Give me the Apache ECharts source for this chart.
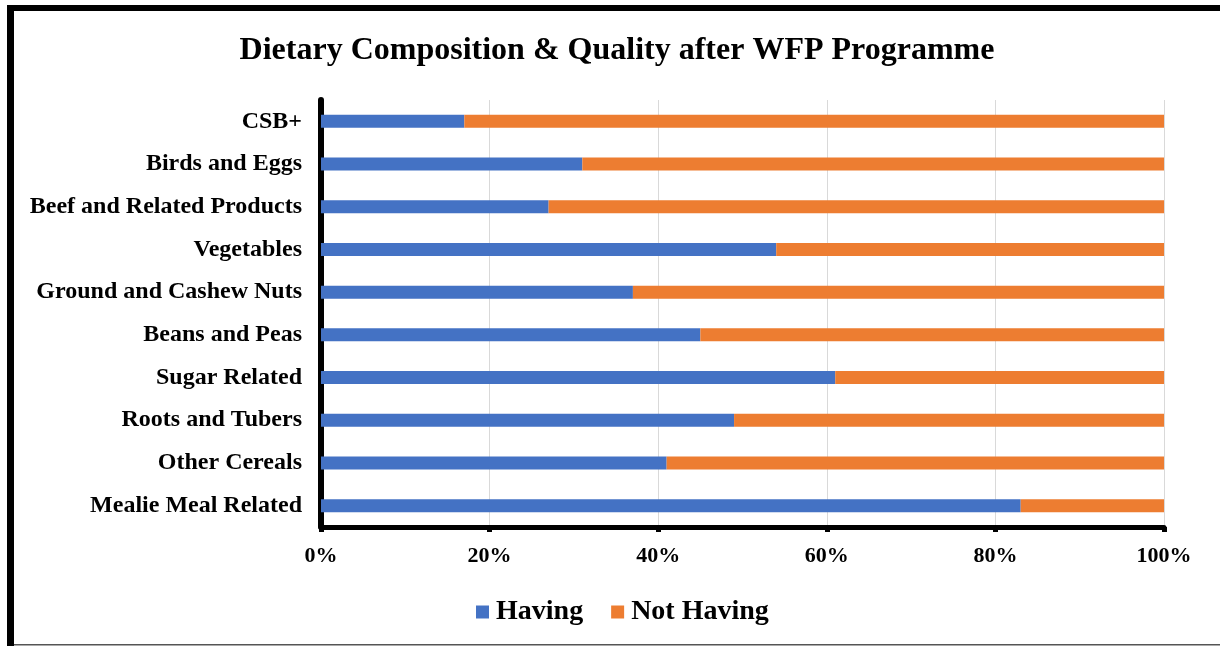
<!DOCTYPE html>
<html>
<head>
<meta charset="utf-8">
<script src="https://cdn.jsdelivr.net/npm/echarts@6/dist/echarts.min.js"></script>
<style>
html,body{margin:0;padding:0;background:#fff;}
#chart{width:1220px;height:646px;}
</style>
</head>
<body>
<div id="chart"></div>
<script>
const categories = ["Mealie Meal Related","Other Cereals","Roots and Tubers","Sugar Related","Beans and Peas","Ground and Cashew Nuts","Vegetables","Beef and Related Products","Birds and Eggs","CSB+"];
const having = [83,41,49,61,45,37,54,27,31,17];
const notHaving = [17,59,51,39,55,63,46,73,69,83];
const seriesNames = ["Having","Not Having"];
const xTicks = [0,20,40,60,80,100];

const FONT = '"Liberation Serif","Times New Roman",serif';
const chart = echarts.init(document.getElementById('chart'), null, {renderer:'canvas'});
chart.setOption({
  animation:false,
  backgroundColor:'#fff',
  title:{
    text:'Dietary Composition & Quality after WFP Programme',
    left:612, textAlign:'center', top:30,
    textStyle:{fontFamily:FONT,fontWeight:'bold',fontSize:32,color:'#000'}
  },
  legend:{
    data:seriesNames,
    left:471, top:593,
    itemWidth:13,itemHeight:13,itemGap:28,
    icon:'rect',
    textStyle:{fontFamily:FONT,fontWeight:'bold',fontSize:28,color:'#000',padding:[0,0,0,2]}
  },
  grid:{left:321,right:56,top:100,bottom:119,containLabel:false},
  xAxis:{
    type:'value',min:xTicks[0],max:xTicks[xTicks.length-1],interval:20,
    axisLine:{show:true,lineStyle:{color:'#000',width:5}},
    axisTick:{show:true,length:5,lineStyle:{color:'#000',width:5}},
    splitLine:{show:true,lineStyle:{color:'#d9d9d9',width:1}},
    axisLabel:{formatter:'{value}%',margin:18,fontFamily:FONT,fontWeight:'bold',fontSize:22,color:'#000'}
  },
  yAxis:{
    type:'category',data:categories,
    axisLine:{show:true,lineStyle:{color:'#000',width:6}},
    axisTick:{show:false},
    axisLabel:{margin:19,fontFamily:FONT,fontWeight:'bold',fontSize:24,color:'#000'}
  },
  series:[
    {name:seriesNames[0],type:'bar',stack:'t',data:having,barWidth:13,itemStyle:{color:'#4472C4'}},
    {name:seriesNames[1],type:'bar',stack:'t',data:notHaving,barWidth:13,itemStyle:{color:'#ED7D31'}}
  ],
  graphic:[
    {type:'rect',shape:{x:7,y:5,width:1213,height:6},style:{fill:'#000'},z:100},
    {type:'rect',shape:{x:7,y:5,width:7,height:641},style:{fill:'#000'},z:100},
    {type:'rect',shape:{x:14,y:644,width:1206,height:1.5},style:{fill:'#555'},z:100}
  ]
});
</script>
</body>
</html>
